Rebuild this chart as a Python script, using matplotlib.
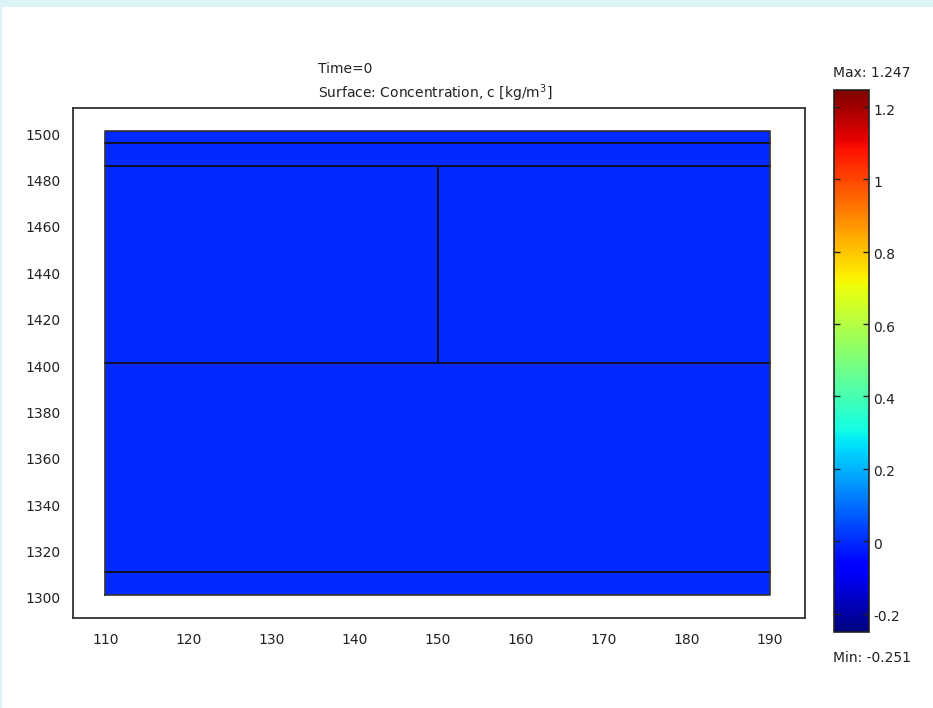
import numpy as np
import matplotlib
matplotlib.use("Agg")
import matplotlib.pyplot as plt
from matplotlib.patches import Rectangle
from matplotlib.colors import Normalize
from matplotlib.transforms import ScaledTranslation
import matplotlib.cm as cm

# ---- data ----
x_bounds = [110, 190]
x_divider = 150
y_bounds = [1300, 1500]
y_interfaces = [1310, 1400, 1485, 1495]
divider_y_range = [1400, 1485]
x_grid = [110, 150, 190]
y_grid = [1300, 1310, 1400, 1485, 1495, 1500]
concentration = np.zeros((len(y_grid) - 1, len(x_grid) - 1))
c_min, c_max = -0.251, 1.247
cbar_ticks = [-0.2, 0, 0.2, 0.4, 0.6, 0.8, 1, 1.2]
cbar_ticklabels = ["-0.2", "0", "0.2", "0.4", "0.6", "0.8", "1", "1.2"]
x_ticks = [110, 120, 130, 140, 150, 160, 170, 180, 190]
y_ticks = [1300, 1320, 1340, 1360, 1380, 1400, 1420, 1440, 1460, 1480, 1500]
title_line1 = "Time=0"
title_line2 = "Surface: Concentration, c [kg/m$^3$]"

W, H = 933, 708
fig = plt.figure(figsize=(W / 100, H / 100), dpi=100)
fig.patch.set_facecolor("white")
fs = 10

# light-blue frame (top and left)
fig.patches.append(Rectangle((0, 1 - 7 / H), 1, 7 / H, transform=fig.transFigure,
                             facecolor="#dcf4f8", edgecolor="none", zorder=0))
fig.patches.append(Rectangle((0, 0), 2 / W, 1, transform=fig.transFigure,
                             facecolor="#dcf4f8", edgecolor="none", zorder=0))

ax = fig.add_axes([73 / W, 1 - 618 / H, (805 - 73) / W, (618 - 108) / H])
norm = Normalize(vmin=c_min, vmax=c_max)
ax.pcolormesh(x_grid, y_grid, concentration, cmap="jet", norm=norm, shading="flat")

lc = "#10102a"
lw = 1.4
for yv in y_interfaces:
    ax.plot(x_bounds, [yv, yv], color=lc, lw=lw)
ax.plot([x_divider, x_divider], divider_y_range, color=lc, lw=lw)
ax.plot([x_bounds[0], x_bounds[1], x_bounds[1], x_bounds[0], x_bounds[0]],
        [y_bounds[0], y_bounds[0], y_bounds[1], y_bounds[1], y_bounds[0]],
        color="#333333", lw=1.2)

ax.set_xlim(106.1, 194.2)
ax.set_ylim(1290, 1510)
ax.set_xticks(x_ticks)
ax.set_yticks(y_ticks)
ax.tick_params(axis="both", length=0, labelsize=fs, colors="#222222")
ax.tick_params(axis="x", pad=11)
ax.tick_params(axis="y", pad=9)
shift = ScaledTranslation(0, -3 / 100, fig.dpi_scale_trans)
for tick in ax.yaxis.get_major_ticks():
    tick.label1.set_transform(tick.label1.get_transform() + shift)
for sp in ax.spines.values():
    sp.set_color("#333333")
    sp.set_linewidth(1.3)

fig.text(318 / W, 1 - 73 / H, title_line1, ha="left", va="baseline",
         fontsize=fs, color="#222222")
fig.text(318 / W, 1 - 98 / H, title_line2, ha="left", va="baseline",
         fontsize=fs, color="#222222")

# colorbar
cax = fig.add_axes([834 / W, 1 - 632 / H, 35 / W, 542 / H])
cb = fig.colorbar(cm.ScalarMappable(norm=norm, cmap="jet"), cax=cax)
cb.set_ticks(cbar_ticks)
cb.set_ticklabels(cbar_ticklabels)
cax.tick_params(axis="y", direction="in", length=4, width=1, left=True, right=True,
                labelsize=fs, pad=3, colors="#222222")
shift2 = ScaledTranslation(0, -2 / 100, fig.dpi_scale_trans)
for tick in cax.yaxis.get_major_ticks():
    tick.label2.set_transform(tick.label2.get_transform() + shift2)
cb.outline.set_edgecolor("#222222")
cb.outline.set_linewidth(1.2)

fig.text(833 / W, 1 - 73 / H, f"Max: {c_max}", ha="left", va="center",
         fontsize=fs, color="#222222")
fig.text(833 / W, 1 - 658 / H, f"Min: {c_min}", ha="left", va="center",
         fontsize=fs, color="#222222")

fig.savefig("out.png", dpi=100)
